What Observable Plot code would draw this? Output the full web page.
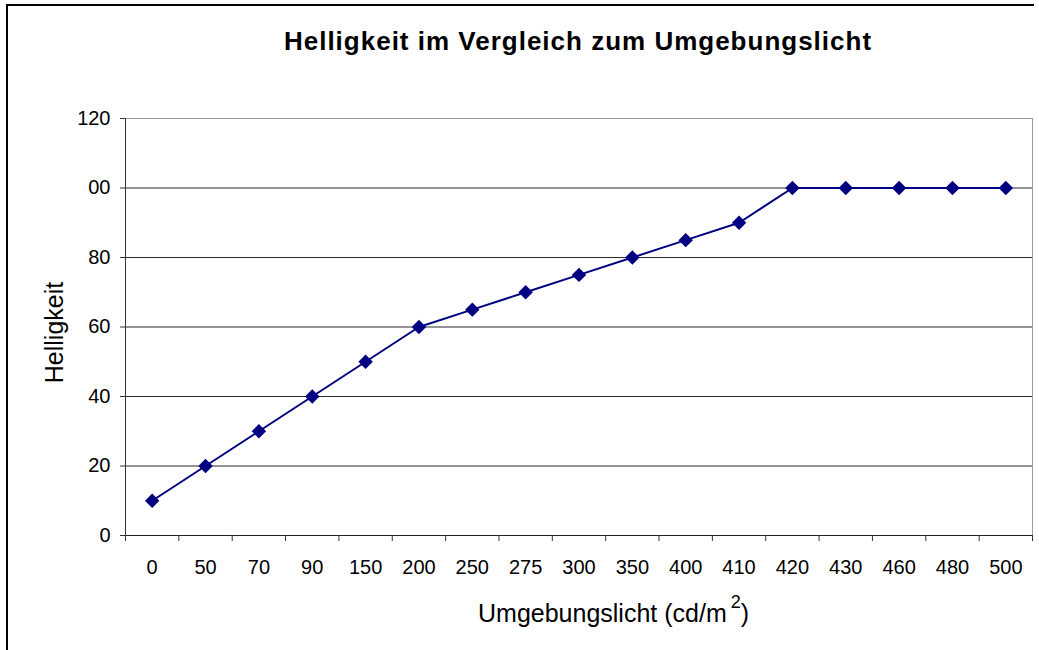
<!DOCTYPE html>
<html>
<head>
<meta charset="utf-8">
<script src="https://cdn.jsdelivr.net/npm/d3@7"></script>
<script src="https://cdn.jsdelivr.net/npm/@observablehq/plot@0.6"></script>
<style>
  html, body { margin: 0; padding: 0; background: #fff; }
  #wrap { position: relative; width: 1039px; height: 650px; overflow: hidden; font-family: "Liberation Sans", Arial, sans-serif; }
  #border { position: absolute; left: 6px; top: 4px; width: 1026px; height: 700px; border-left: 2px solid #000; border-top: 2px solid #000; }
  #title { position: absolute; left: 278px; width: 600px; top: 28px; text-align: center; font-size: 26px; line-height: 26px; font-weight: bold; letter-spacing: 1px; color: #000; white-space: nowrap; }
  #xlabel { position: absolute; left: 478px; top: 601px; font-size: 25px; line-height: 25px; color: #000; white-space: nowrap; }
  #xlabel .sup { font-size: 18px; position: relative; top: -14px; margin-left: 4px; }
  #ylabel { position: absolute; left: -46px; top: 320px; width: 200px; height: 25px; line-height: 25px; font-size: 25px; text-align: center; transform: rotate(-90deg); transform-origin: 50% 50%; color: #000; white-space: nowrap; }
  #chart { position: absolute; left: 0; top: 0; }
</style>
</head>
<body>
<div id="wrap">
  <div id="chart"></div>
  <div id="border"></div>
  <div id="title">Helligkeit im Vergleich zum Umgebungslicht</div>
  <div id="ylabel">Helligkeit</div>
  <div id="xlabel">Umgebungslicht (cd/m<span class="sup">2</span>)</div>
</div>
<script>
// Category labels (ambient light, cd/m²)
const categories = ["0","50","70","90","150","200","250","275","300","350","400","410","420","430","460","480","500"];
// Brightness values
const brightness = [10, 20, 30, 40, 50, 60, 65, 70, 75, 80, 85, 90, 100, 100, 100, 100, 100];
// Y-axis ticks and their labels as shown in the picture
const yTicks = [0, 20, 40, 60, 80, 100, 120];
const yTickLabels = ["0", "20", "40", "60", "80", "00", "120"];
const gridValues = [20, 40, 60, 80, 100];

const data = categories.map((c, i) => ({i, cat: c, v: brightness[i]}));
const idx = d3.range(categories.length);
const boundaries = d3.range(categories.length + 1).map(k => k - 0.5);

const plot = Plot.plot({
  width: 1039,
  height: 650,
  marginLeft: 125,
  marginRight: 7,
  marginTop: 118,
  marginBottom: 115,
  style: {fontFamily: "'Liberation Sans', Arial, sans-serif", fontSize: "20px", background: "transparent", color: "#000"},
  x: {type: "linear", domain: [-0.5, categories.length - 0.5], axis: null},
  y: {domain: [0, 120], axis: null},
  marks: [
    Plot.ruleY(gridValues, {stroke: "#2a2a2a", strokeWidth: 1}),
    Plot.ruleY([120], {stroke: "#9a9a9a", strokeWidth: 1}),
    Plot.ruleX([categories.length - 0.5], {y1: 0, y2: 120, stroke: "#9a9a9a", strokeWidth: 1}),
    Plot.ruleX([-0.5], {y1: 0, y2: 120, stroke: "#333", strokeWidth: 1}),
    Plot.ruleY([0], {stroke: "#222", strokeWidth: 1}),
    Plot.axisY({ticks: yTicks, tickFormat: (d) => yTickLabels[yTicks.indexOf(d)], tickSize: 5, tickPadding: 10, stroke: "#333", fontSize: 20, color: "#000", label: null}),
    Plot.axisX({ticks: boundaries, tickFormat: () => "", tickSize: 6, stroke: "#333", label: null}),
    Plot.axisX({ticks: idx, tickFormat: (d) => categories[d], tickSize: 0, tickPadding: 24, fontSize: 20, color: "#000", label: null}),
    Plot.line(data, {x: "i", y: "v", stroke: "#000080", strokeWidth: 2}),
    Plot.dot(data, {x: "i", y: "v", symbol: "diamond2", r: 6.5, fill: "#000080", stroke: "none"})
  ]
});
document.getElementById("chart").appendChild(plot);
</script>
</body>
</html>
